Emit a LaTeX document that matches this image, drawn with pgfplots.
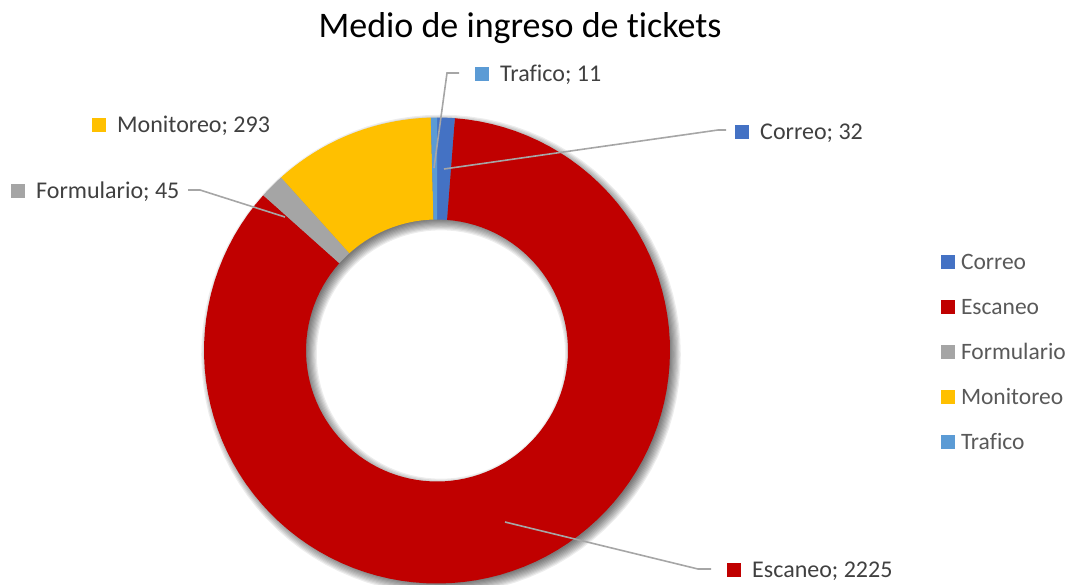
\documentclass[border=0pt]{standalone}
\usepackage{pgfplots}
\pgfplotsset{compat=1.18}
\usepackage{pgfplotstable}
\usepackage{fontspec}
\setmainfont{Carlito}[Ligatures=NoCommon]

\definecolor{cCorreo}{HTML}{4472C4}
\definecolor{cEscaneo}{HTML}{C00000}
\definecolor{cFormulario}{HTML}{A5A5A5}
\definecolor{cMonitoreo}{HTML}{FFC000}
\definecolor{cTrafico}{HTML}{5B9BD5}
\definecolor{leader}{HTML}{A6A6A6}
\definecolor{labeltext}{HTML}{404040}
\definecolor{legendtext}{HTML}{595959}

\pgfplotstableread{
name value
Correo 32
Escaneo 2225
Formulario 45
Monitoreo 293
Trafico 11
}\ticketdata

\pgfplotstablegetelem{0}{value}\of\ticketdata\edef\vCorreo{\pgfplotsretval}
\pgfplotstablegetelem{1}{value}\of\ticketdata\edef\vEscaneo{\pgfplotsretval}
\pgfplotstablegetelem{2}{value}\of\ticketdata\edef\vFormulario{\pgfplotsretval}
\pgfplotstablegetelem{3}{value}\of\ticketdata\edef\vMonitoreo{\pgfplotsretval}
\pgfplotstablegetelem{4}{value}\of\ticketdata\edef\vTrafico{\pgfplotsretval}

\pgfmathsetmacro\total{\vCorreo+\vEscaneo+\vFormulario+\vMonitoreo+\vTrafico}
\pgfmathsetmacro\aA{0}
\pgfmathsetmacro\aB{\aA+360*(\vCorreo/\total)}
\pgfmathsetmacro\aC{\aB+360*(\vEscaneo/\total)}
\pgfmathsetmacro\aD{\aC+360*(\vFormulario/\total)}
\pgfmathsetmacro\aE{\aD+360*(\vMonitoreo/\total)}
\pgfmathsetmacro\aF{360}

\def\cx{437}
\def\cy{350.5}
\def\Ro{233}
\def\Ri{131}

% slice: start angle, end angle (clockwise from 12 o'clock), colour
\newcommand{\donutslice}[3]{%
  \addplot[fill=#3, draw=none, samples at={0,1,...,100,200,201,...,300}, variable=\t]
   ({\cx + ifthenelse(\t<150,\Ro,\Ri)*sin(ifthenelse(\t<150, #1+(#2-#1)*\t/100, #2-(#2-#1)*(\t-200)/100))},
    {\cy - ifthenelse(\t<150,\Ro,\Ri)*cos(ifthenelse(\t<150, #1+(#2-#1)*\t/100, #2-(#2-#1)*(\t-200)/100))});
}

\newcommand{\sq}[1]{{\color{#1}\rule[0.7pt]{14pt}{14pt}}}

\begin{document}
\begin{tikzpicture}
\begin{axis}[
  name=ax,
  scale only axis,
  width=1068pt, height=584pt,
  xmin=0, xmax=1068, ymin=0, ymax=584,
  y dir=reverse,
  hide axis,
  clip=false,
  legend image code/.code={\fill[#1,draw=none] (0pt,-7pt) rectangle (14pt,7pt);},
  legend style={
    at={(axis cs:941,250.3)}, anchor=north west,
    draw=none, fill=none, inner sep=0pt, outer sep=0pt,
    font=\fontsize{23.5}{28}\selectfont, text=legendtext,
    nodes={inner sep=0pt, text height=19.2pt, text depth=4pt},
    row sep=21.8pt,
    /tikz/every odd column/.append style={column sep=6pt},
  },
  legend cell align=left,
]
% soft drop shadow
\pgfplotsinvokeforeach{0,...,9}{
  \addplot[forget plot, fill=black, fill opacity=0.07, draw=none, even odd rule,
    samples at={0,1,...,100,200,201,...,300}, variable=\t]
   ({\cx+4 + ifthenelse(\t<150,\Ro+1.2*#1-4,\Ri-1.2*#1+4)*sin(ifthenelse(\t<150,3.6*\t,3.6*(\t-200)))},
    {\cy+4 - ifthenelse(\t<150,\Ro+1.2*#1-4,\Ri-1.2*#1+4)*cos(ifthenelse(\t<150,3.6*\t,3.6*(\t-200)))});
}
% slices
\donutslice{\aA}{\aB}{cCorreo}\addlegendentry{Correo}
\donutslice{\aB}{\aC}{cEscaneo}\addlegendentry{Escaneo}
\donutslice{\aC}{\aD}{cFormulario}\addlegendentry{Formulario}
\donutslice{\aD}{\aE}{cMonitoreo}\addlegendentry{Monitoreo}
\donutslice{\aE}{\aF}{cTrafico}\addlegendentry{Trafico}

% leader lines
\addplot[forget plot, color=leader, line width=1.6pt] coordinates {(459,73) (447,73) (434,168)};
\addplot[forget plot, color=leader, line width=1.6pt] coordinates {(444,169) (718,130) (726,130)};
\addplot[forget plot, color=leader, line width=1.6pt] coordinates {(188,190) (200,190) (285,217)};
\addplot[forget plot, color=leader, line width=1.6pt] coordinates {(505,522) (698,569) (711,569)};

% data labels
\begin{scope}[every node/.style={inner sep=0pt, anchor=base west, text=labeltext, font=\fontsize{24}{28}\selectfont}]
\node at (axis cs:475,81.7) {\sq{cTrafico}\hspace{11pt}Trafico; \vTrafico};
\node at (axis cs:735,139.7) {\sq{cCorreo}\hspace{11pt}Correo; \vCorreo};
\node at (axis cs:92,132.7) {\sq{cMonitoreo}\hspace{11pt}Monitoreo; \vMonitoreo};
\node at (axis cs:11,198.7) {\sq{cFormulario}\hspace{11pt}Formulario; \vFormulario};
\node at (axis cs:727,577.7) {\sq{cEscaneo}\hspace{11pt}Escaneo; \vEscaneo};
\end{scope}

% title
\node[anchor=base, inner sep=0pt, font=\fontsize{36}{42}\selectfont, text=black] at (axis cs:520,37.5) {Medio de ingreso de tickets};
\end{axis}
\pgfresetboundingbox
\path (ax.south west) rectangle (ax.north east);
\end{tikzpicture}
\end{document}
